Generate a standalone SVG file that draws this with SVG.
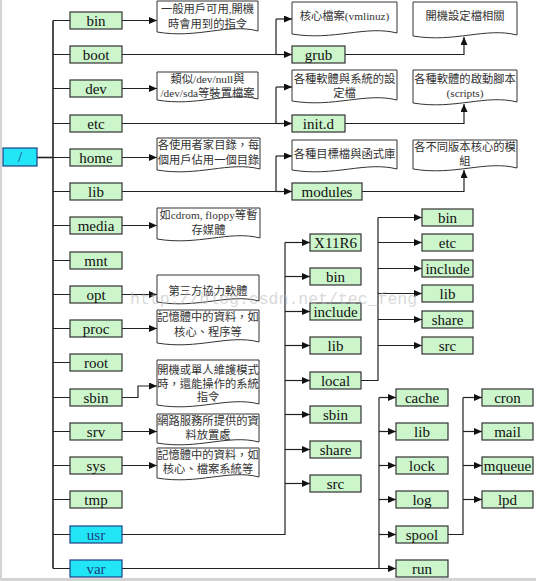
<svg xmlns="http://www.w3.org/2000/svg" width="536" height="581" viewBox="0 0 536 581">
<defs>
<marker id="ah" markerUnits="userSpaceOnUse" markerWidth="8" markerHeight="7" refX="8" refY="3.5" orient="auto"><path d="M0,0 L8,3.5 L0,7 z" fill="#111"/></marker>
<style>
.g{fill:#ccf5cc;stroke:#333;stroke-width:1.2}
.c{fill:#22e6f5;stroke:#1d3f88;stroke-width:1.2}
.t{font-family:"Liberation Serif",serif;font-size:15px;fill:#111;text-anchor:middle}
.tc{font-family:"Liberation Serif",serif;font-size:15px;fill:#1d3f88;text-anchor:middle}
.d{fill:#fff;stroke:#333;stroke-width:1}
.dt{font-family:"Liberation Serif","Noto Sans CJK TC",serif;font-size:11.3px;fill:#333;text-anchor:middle}
.l{fill:none;stroke:#222;stroke-width:1.2}
.la{fill:none;stroke:#222;stroke-width:1.2;marker-end:url(#ah)}
.wm{font-family:"Liberation Mono",monospace;font-size:16.5px;fill:#bbb;opacity:0.55}
</style>
</defs>
<rect x="0" y="0" width="536" height="581" fill="#fff"/>
<rect x="0" y="0" width="2" height="581" fill="#d4d4d4"/>
<rect x="0" y="578" width="536" height="3" fill="#d4d4d4"/>

<g id="connectors">
<path class="l" d="M37,157.5H53" style="stroke-width:1.6"/>
<path class="l" d="M53,20.5V568.5" style="stroke-width:1.6"/>
<path class="l" d="M53,20.5H70M53,54.5H70M53,88.5H70M53,123.5H70M53,157.5H70M53,191.5H70M53,225.5H70M53,260.5H70M53,294.5H70M53,328.5H70M53,362.5H70M53,397.5H70M53,431.5H70M53,465.5H70M53,499.5H70M53,534.5H70M53,568.5H70"/>
<path class="la" d="M122,20.5H157"/>
<path class="la" d="M122,88.5H157"/>
<path class="la" d="M122,157.5H157"/>
<path class="la" d="M122,225.5H157"/>
<path class="la" d="M122,294.5H157"/>
<path class="la" d="M122,328.5H157"/>
<path class="la" d="M122,397.5H138V386H157"/>
<path class="la" d="M122,431.5H157"/>
<path class="la" d="M122,465.5H157"/>
<path class="l" d="M122,54.5H276M276,54.5V19"/>
<path class="la" d="M276,19H292"/>
<path class="la" d="M276,54.5H292"/>
<path class="la" d="M345,54.5H464V37"/>
<path class="l" d="M122,123.5H276M276,123.5V87"/>
<path class="la" d="M276,87H292"/>
<path class="la" d="M276,123.5H292"/>
<path class="la" d="M345,123.5H464V104"/>
<path class="l" d="M122,191.5H276M276,191.5V156"/>
<path class="la" d="M276,156H292"/>
<path class="la" d="M276,191.5H292"/>
<path class="la" d="M362,191.5H464V170"/>
<path class="l" d="M122,534.5H285V242.5"/>
<path class="la" d="M285,242.5H310"/>
<path class="la" d="M285,276.5H310"/>
<path class="la" d="M285,311.5H310"/>
<path class="la" d="M285,345.5H310"/>
<path class="la" d="M285,380.5H310"/>
<path class="la" d="M285,414.5H310"/>
<path class="la" d="M285,449.5H310"/>
<path class="la" d="M285,483.5H310"/>
<path class="l" d="M361,380.5H378V217.5"/>
<path class="la" d="M378,217.5H422"/>
<path class="la" d="M378,242.5H422"/>
<path class="la" d="M378,268.5H422"/>
<path class="la" d="M378,293.5H422"/>
<path class="la" d="M378,319.5H422"/>
<path class="la" d="M378,345.5H422"/>
<path class="la" d="M122,568.5H396"/>
<path class="l" d="M379,568.5V397.5"/>
<path class="la" d="M379,397.5H396"/>
<path class="la" d="M379,431.5H396"/>
<path class="la" d="M379,465.5H396"/>
<path class="la" d="M379,499.5H396"/>
<path class="la" d="M379,534.5H396"/>
<path class="l" d="M448,534.5H463V397.5"/>
<path class="la" d="M463,397.5H482"/>
<path class="la" d="M463,431.5H482"/>
<path class="la" d="M463,465.5H482"/>
<path class="la" d="M463,499.5H482"/>
</g>

<g id="n-root"><rect class="c" x="3" y="148" width="34" height="18"/><text class="tc" x="20" y="162">/</text></g>

<g id="n-bin"><rect class="g" x="70" y="12" width="52" height="17"/><text class="t" x="96" y="26">bin</text></g>
<g id="n-boot"><rect class="g" x="70" y="46" width="52" height="17"/><text class="t" x="96" y="60">boot</text></g>
<g id="n-dev"><rect class="g" x="70" y="80" width="52" height="17"/><text class="t" x="96" y="94">dev</text></g>
<g id="n-etc"><rect class="g" x="70" y="115" width="52" height="17"/><text class="t" x="96" y="129">etc</text></g>
<g id="n-home"><rect class="g" x="70" y="149" width="52" height="17"/><text class="t" x="96" y="163">home</text></g>
<g id="n-lib"><rect class="g" x="70" y="183" width="52" height="17"/><text class="t" x="96" y="197">lib</text></g>
<g id="n-media"><rect class="g" x="70" y="217" width="52" height="17"/><text class="t" x="96" y="231">media</text></g>
<g id="n-mnt"><rect class="g" x="70" y="252" width="52" height="17"/><text class="t" x="96" y="266">mnt</text></g>
<g id="n-opt"><rect class="g" x="70" y="286" width="52" height="17"/><text class="t" x="96" y="300">opt</text></g>
<g id="n-proc"><rect class="g" x="70" y="320" width="52" height="17"/><text class="t" x="96" y="334">proc</text></g>
<g id="n-root2"><rect class="g" x="70" y="354" width="52" height="17"/><text class="t" x="96" y="368">root</text></g>
<g id="n-sbin"><rect class="g" x="70" y="389" width="52" height="17"/><text class="t" x="96" y="403">sbin</text></g>
<g id="n-srv"><rect class="g" x="70" y="423" width="52" height="17"/><text class="t" x="96" y="437">srv</text></g>
<g id="n-sys"><rect class="g" x="70" y="457" width="52" height="17"/><text class="t" x="96" y="471">sys</text></g>
<g id="n-tmp"><rect class="g" x="70" y="491" width="52" height="17"/><text class="t" x="96" y="505">tmp</text></g>
<g id="n-usr"><rect class="c" x="70" y="526" width="52" height="17"/><text class="tc" x="96" y="540">usr</text></g>
<g id="n-var"><rect class="c" x="70" y="560" width="52" height="17"/><text class="tc" x="96" y="574">var</text></g>

<g id="d-bin"><path class="d" d="M157,1H258V31C227.7,23 197.4,39 157,32Z"/><text class="dt" x="207.5" y="13">一般用戶可用,開機</text><text class="dt" x="207.5" y="28">時會用到的指令</text></g>
<g id="d-dev"><path class="d" d="M157,72H258V99C227.7,91 197.4,107 157,100Z"/><text class="dt" x="207.5" y="83">類似/dev/null與</text><text class="dt" x="207.5" y="97">/dev/sda等裝置檔案</text></g>
<g id="d-home"><path class="d" d="M157,138H260V169C229.1,161 198.2,177 157,170Z"/><text class="dt" x="208.5" y="149">各使用者家目錄，每</text><text class="dt" x="208.5" y="164">個用戶佔用一個目錄</text></g>
<g id="d-media"><path class="d" d="M157,208H260V238C229.1,230 198.2,246 157,239Z"/><text class="dt" x="208.5" y="219">如cdrom, floppy等暫</text><text class="dt" x="208.5" y="234">存媒體</text></g>
<g id="d-opt"><path class="d" d="M157,275H259V301C228.4,293 197.8,309 157,302Z"/><text class="dt" x="208" y="295">第三方協力軟體</text></g>
<g id="d-proc"><path class="d" d="M157,310H259V342C228.4,334 197.8,350 157,343Z"/><text class="dt" x="208" y="321">記憶體中的資料，如</text><text class="dt" x="208" y="336">核心、程序等</text></g>
<g id="d-sbin"><path class="d" d="M157,360H259V404C228.4,396 197.8,412 157,405Z"/><text class="dt" x="208" y="374">開機或單人維護模式</text><text class="dt" x="208" y="388">時，還能操作的系統</text><text class="dt" x="208" y="401">指令</text></g>
<g id="d-srv"><path class="d" d="M157,414H259V442C228.4,434 197.8,450 157,443Z"/><text class="dt" x="208" y="425">網路服務所提供的資</text><text class="dt" x="208" y="439">料放置處</text></g>
<g id="d-sys"><path class="d" d="M157,448H259V477C228.4,469 197.8,485 157,478Z"/><text class="dt" x="208" y="459">記憶體中的資料，如</text><text class="dt" x="208" y="473">核心、檔案系統等</text></g>

<g id="d-vmlinuz"><path class="d" d="M292,2H397V33C365.5,25 334,41 292,34Z"/><text class="dt" x="344.5" y="20">核心檔案(vmlinuz)</text></g>
<g id="d-grubcfg"><path class="d" d="M413,2H517V35C485.8,27 454.6,43 413,36Z"/><text class="dt" x="465" y="20">開機設定檔相關</text></g>
<g id="d-etc"><path class="d" d="M292,70H397V100C365.5,92 334,108 292,101Z"/><text class="dt" x="344.5" y="83">各種軟體與系統的設</text><text class="dt" x="344.5" y="97">定檔</text></g>
<g id="d-initd"><path class="d" d="M413,70H517V102C485.8,94 454.6,110 413,103Z"/><text class="dt" x="465" y="83">各種軟體的啟動腳本</text><text class="dt" x="465" y="97">(scripts)</text></g>
<g id="d-lib"><path class="d" d="M292,140H397V169C365.5,161 334,177 292,170Z"/><text class="dt" x="344.5" y="158">各種目標檔與函式庫</text></g>
<g id="d-modules"><path class="d" d="M413,140H517V168C485.8,160 454.6,176 413,169Z"/><text class="dt" x="465" y="151">各不同版本核心的模</text><text class="dt" x="465" y="165">組</text></g>

<g id="n-grub"><rect class="g" x="292" y="46" width="53" height="17"/><text class="t" x="318.5" y="60">grub</text></g>
<g id="n-initd"><rect class="g" x="292" y="115" width="53" height="17"/><text class="t" x="318.5" y="129">init.d</text></g>
<g id="n-modules"><rect class="g" x="292" y="183" width="70" height="17"/><text class="t" x="327" y="197">modules</text></g>

<g id="n-usr-X11R6"><rect class="g" x="310" y="234" width="51" height="17"/><text class="t" x="335.5" y="248">X11R6</text></g>
<g id="n-usr-bin"><rect class="g" x="310" y="268" width="51" height="17"/><text class="t" x="335.5" y="282">bin</text></g>
<g id="n-usr-include"><rect class="g" x="310" y="303" width="51" height="17"/><text class="t" x="335.5" y="317">include</text></g>
<g id="n-usr-lib"><rect class="g" x="310" y="337" width="51" height="17"/><text class="t" x="335.5" y="351">lib</text></g>
<g id="n-usr-local"><rect class="g" x="310" y="372" width="51" height="17"/><text class="t" x="335.5" y="386">local</text></g>
<g id="n-usr-sbin"><rect class="g" x="310" y="406" width="51" height="17"/><text class="t" x="335.5" y="420">sbin</text></g>
<g id="n-usr-share"><rect class="g" x="310" y="441" width="51" height="17"/><text class="t" x="335.5" y="455">share</text></g>
<g id="n-usr-src"><rect class="g" x="310" y="475" width="51" height="17"/><text class="t" x="335.5" y="489">src</text></g>

<g id="n-local-bin"><rect class="g" x="422" y="209" width="51" height="17"/><text class="t" x="447.5" y="223">bin</text></g>
<g id="n-local-etc"><rect class="g" x="422" y="234" width="51" height="17"/><text class="t" x="447.5" y="248">etc</text></g>
<g id="n-local-include"><rect class="g" x="422" y="260" width="51" height="17"/><text class="t" x="447.5" y="274">include</text></g>
<g id="n-local-lib"><rect class="g" x="422" y="285" width="51" height="17"/><text class="t" x="447.5" y="299">lib</text></g>
<g id="n-local-share"><rect class="g" x="422" y="311" width="51" height="17"/><text class="t" x="447.5" y="325">share</text></g>
<g id="n-local-src"><rect class="g" x="422" y="337" width="51" height="17"/><text class="t" x="447.5" y="351">src</text></g>

<g id="n-var-cache"><rect class="g" x="396" y="389" width="52" height="17"/><text class="t" x="422" y="403">cache</text></g>
<g id="n-var-lib"><rect class="g" x="396" y="423" width="52" height="17"/><text class="t" x="422" y="437">lib</text></g>
<g id="n-var-lock"><rect class="g" x="396" y="457" width="52" height="17"/><text class="t" x="422" y="471">lock</text></g>
<g id="n-var-log"><rect class="g" x="396" y="491" width="52" height="17"/><text class="t" x="422" y="505">log</text></g>
<g id="n-var-spool"><rect class="g" x="396" y="526" width="52" height="17"/><text class="t" x="422" y="540">spool</text></g>
<g id="n-var-run"><rect class="g" x="396" y="560" width="52" height="17"/><text class="t" x="422" y="574">run</text></g>

<g id="n-spool-cron"><rect class="g" x="482" y="389" width="51" height="17"/><text class="t" x="507.5" y="403">cron</text></g>
<g id="n-spool-mail"><rect class="g" x="482" y="423" width="51" height="17"/><text class="t" x="507.5" y="437">mail</text></g>
<g id="n-spool-mqueue"><rect class="g" x="482" y="457" width="51" height="17"/><text class="t" x="507.5" y="471">mqueue</text></g>
<g id="n-spool-lpd"><rect class="g" x="482" y="491" width="51" height="17"/><text class="t" x="507.5" y="505">lpd</text></g>

<text class="wm" x="130" y="304">http://blog.csdn.net/tec_feng</text>
</svg>
